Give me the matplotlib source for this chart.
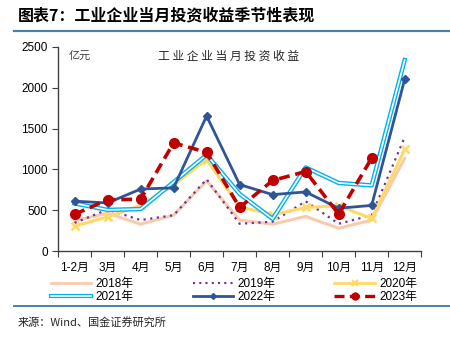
import matplotlib
matplotlib.use('Agg')
import matplotlib.pyplot as plt
from matplotlib.lines import Line2D
from matplotlib.legend_handler import HandlerTuple

plt.rcParams['font.family'] = ['Liberation Sans', 'Noto Sans CJK SC', 'DejaVu Sans']
plt.rcParams['axes.unicode_minus'] = False

months = ['1-2月', '3月', '4月', '5月', '6月', '7月', '8月', '9月', '10月', '11月', '12月']
y2018 = [370, 465, 330, 440, 860, 380, 330, 425, 280, 380, 1135]
y2019 = [345, 510, 380, 440, 880, 335, 360, 610, 335, 440, 1395]
y2020 = [305, 420, 560, 810, 1120, 545, 445, 535, 555, 400, 1245]
y2021 = [585, 505, 515, 845, 1180, 700, 395, 1025, 835, 805, 2340]
y2022 = [612, 590, 760, 775, 1655, 815, 692, 725, 525, 560, 2105]
y2023 = [450, 630, 635, 1325, 1210, 535, 865, 975, 453, 1140]

fig = plt.figure(figsize=(4.5, 3.38), dpi=100)
ax = fig.add_axes([0.129, 0.257, 0.807, 0.604])
x = list(range(len(months)))

l18, = ax.plot(x, y2018, color='#F8CBAD', lw=2.2, zorder=2)
l19, = ax.plot(x, y2019, color='#7030A0', lw=1.6, ls=(0, (1, 2)), zorder=3)
l20, = ax.plot(x, y2020, color='#FFD966', lw=2.2, marker='x', ms=6, mew=1.8, zorder=3)
l21a, = ax.plot(x, y2021, color='#00B0F0', lw=3.2, zorder=4)
l21b, = ax.plot(x, y2021, color='white', lw=1.2, zorder=4)
l22, = ax.plot(x, y2022, color='#2F5597', lw=2.0, marker='D', ms=4, zorder=5)
l23, = ax.plot(x[:len(y2023)], y2023, color='#C00000', lw=2.6, ls=(0, (3, 1.6)),
               marker='o', ms=7, zorder=6)

ax.set_xlim(-0.5, len(months) - 0.5)
ax.set_ylim(0, 2500)
ax.set_yticks([0, 500, 1000, 1500, 2000, 2500])
ax.set_xticks([i - 0.5 for i in range(len(months) + 1)])
ax.set_xticklabels([])
ax.set_xticks(x, minor=True)
ax.set_xticklabels(months, minor=True)
ax.tick_params(axis='x', which='major', length=4, direction='out', color='#404040')
ax.tick_params(axis='x', which='minor', length=0, pad=8, labelsize=8.5)
ax.tick_params(axis='y', length=4, direction='out', color='#404040', labelsize=8.5)
for s in ['top', 'right']:
    ax.spines[s].set_visible(False)
for s in ['left', 'bottom']:
    ax.spines[s].set_color('#404040')
    ax.spines[s].set_linewidth(1.0)

ax.text(0.03, 0.985, '亿元', transform=ax.transAxes, fontsize=8,
        family=['Noto Sans CJK SC'], color='#404040', va='top')
ax.text(0.47, 0.985, '工 业 企 业 当 月 投 资 收 益', transform=ax.transAxes, fontsize=8.5,
        family=['Noto Sans CJK SC'], color='#262626', va='top', ha='center')

# legend handles: thinner than the plotted lines
h18 = Line2D([], [], color='#F8CBAD', lw=2.0)
h19 = Line2D([], [], color='#7030A0', lw=1.5, ls=(0, (1, 2)))
h20 = Line2D([], [], color='#FFD966', lw=2.0, marker='x', ms=4, mew=1.5)
h21a = Line2D([], [], color='#00B0F0', lw=3.0)
h21b = Line2D([], [], color='white', lw=1.2)
h22 = Line2D([], [], color='#2F5597', lw=2.0, marker='D', ms=3)
h23 = Line2D([], [], color='#C00000', lw=2.4, ls=(0, (3, 1.6)), marker='o', ms=5)

handles = [h18, (h21a, h21b), h19, h22, h20, h23]
labels = ['2018年', '2021年', '2019年', '2022年', '2020年', '2023年']
fig.legend(handles, labels, handler_map={tuple: HandlerTuple(ndivide=1, pad=0)},
           ncol=3, loc='center', bbox_to_anchor=(0.52, 0.141), frameon=False,
           fontsize=8.5, handlelength=3.4, columnspacing=5.0, labelspacing=0.1,
           handletextpad=0.4)

fig.text(0.04, 0.955, '图表7：工业企业当月投资收益季节性表现', fontsize=11.5, fontweight='bold',
         family=['Noto Sans CJK SC'], va='center')
fig.add_artist(Line2D([0.03, 1.0], [0.908, 0.908], color='#4F81A0', lw=1.6))
fig.add_artist(Line2D([0.03, 1.0], [0.094, 0.094], color='#4F81A0', lw=1.4))
fig.text(0.04, 0.045, '来源：Wind、国金证券研究所', fontsize=8,
         family=['Noto Sans CJK SC'], color='#262626', va='center')

fig.savefig('out.png', dpi=100)
